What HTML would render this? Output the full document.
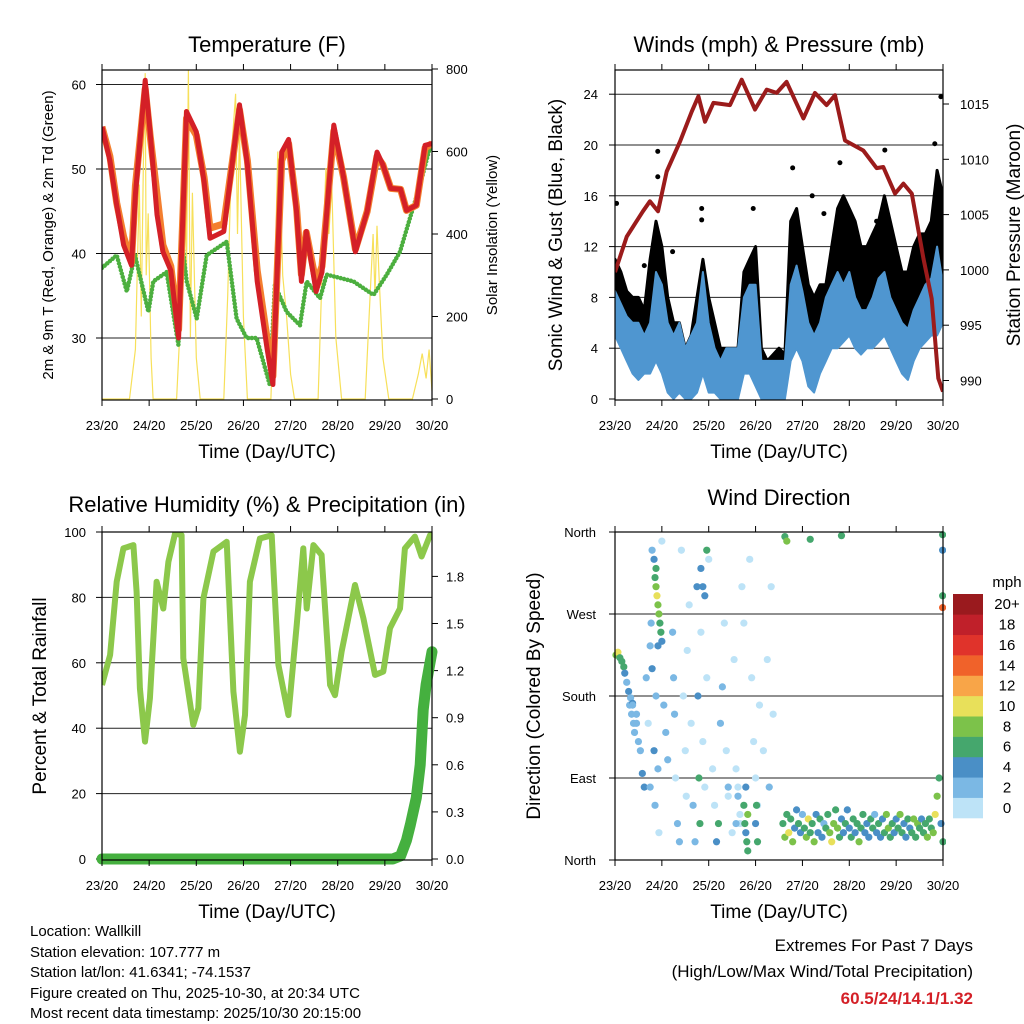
<!DOCTYPE html>
<html><head><meta charset="utf-8"><style>
html,body{margin:0;padding:0;background:#fff;}
svg{display:block;font-family:"Liberation Sans",Arial,sans-serif;}
</style></head><body>
<svg id="c" width="1024" height="1024" viewBox="0 0 1024 1024" xmlns="http://www.w3.org/2000/svg">
<defs>
<clipPath id="cp1"><rect x="102" y="70" width="330" height="330"/></clipPath>
<clipPath id="cp2"><rect x="615" y="70" width="328" height="330"/></clipPath>
<clipPath id="cp3"><rect x="102" y="532" width="330" height="328"/></clipPath>
<clipPath id="cp4"><rect x="612" y="528" width="334" height="336"/></clipPath>
</defs>
<g id="g1"></g>
<g id="g2"></g>
<g id="g3"></g>
<g id="g4"></g>
<g font-size="15" fill="#000">
<text x="30" y="936">Location: Wallkill</text>
<text x="30" y="957">Station elevation: 107.777 m</text>
<text x="30" y="977">Station lat/lon: 41.6341; -74.1537</text>
<text x="30" y="998">Figure created on Thu, 2025-10-30, at 20:34 UTC</text>
<text x="30" y="1018">Most recent data timestamp: 2025/10/30 20:15:00</text>
</g>
<g font-size="17" text-anchor="end">
<text x="973" y="951">Extremes For Past 7 Days</text>
<text x="973" y="977">(High/Low/Max Wind/Total Precipitation)</text>
<text x="973" y="1004" fill="#d42027" font-weight="bold">60.5/24/14.1/1.32</text>
</g>
</svg>
<script>
const dayLabels=["23/20","24/20","25/20","26/20","27/20","28/20","29/20","30/20"];
// Temperature (F)
const tT=[0,4,7.5,11,15,17,22,24.5,28,31,35,39,43,48,52,55,62,70,74,79,84,87,91.5,95,99,101.5,104,109,112,118,123,129,135,140,143,147,152,155,160,164.5,168];
const tRed=[55,51,45.7,41,38.6,47,60.5,54.4,44.6,40.2,38,30,56.8,54.4,48.5,41.8,42.6,57.6,50.5,36.7,28.8,24.5,52,53.5,45,36.7,42.6,35.5,37.8,55.2,49,40.2,45,52,50.5,47.7,47.6,45.1,45.7,52.8,53];
const tOrange=[55,51.5,46,42,39,48,59.5,54,47,41,38.5,31,56,54,49,43,43.5,57,51,38,30,25.5,51,53,45.5,37.5,42.5,36.5,38.5,54.5,49,40.5,45,51.5,50.5,47.7,47.6,45.1,45.7,52.5,53];
const tdT=[0,7.5,12.6,16.8,23.6,26.1,32.9,38.9,40.5,43.1,48.2,53.3,63.5,68.5,73.6,78.7,85.5,88,94,100.8,104.2,111,114.4,128,138.2,145,151.7,156.8,161.9,166.6,168];
const tdV=[38.3,39.8,35.5,39.8,33.1,36.7,37.8,29.2,41.8,36.7,32.3,39.8,41.4,32.3,30,30,24.4,36.3,33.1,31.5,36.7,34.7,37.5,36.7,35.1,37.5,40.2,44.2,48.1,52.3,52.5];
const solT=[0,14,17,19,20,21,22,22.5,23.5,25,26,38,40,42,43,44,45,46,48,50,62,64,66,68,69,70,72,74,86,88,89.5,91,92,94,96,98,110,112,114,115.5,117,119,122,134,136,138,139,140,141,143,146,158,161,163,165,166.5,168];
const solV=[0,0,120,520,200,560,790,300,450,100,0,0,200,700,300,800,150,500,100,0,0,250,600,740,400,650,200,0,0,300,600,480,300,200,60,0,0,300,560,400,520,150,0,0,200,400,250,420,300,100,0,0,60,110,50,120,20];
const tempTicks=[30,40,50,60];
const solTicks=[0,200,400,600,800];
// Winds (mph) & Pressure (mb)
const presT=[0,6,14.3,17.9,22,26.5,33.3,39.3,42.7,46.1,50.4,58.9,64.9,71.7,77.7,82.8,87.9,96.5,102.4,108.4,112.7,117.8,127.2,134,137.4,143.4,147.7,152,158,162.2,165.6,168];
const presV=[999.8,1003,1005.3,1006.2,1005.3,1008.9,1011.6,1014.3,1015.7,1013.4,1015.1,1014.9,1017.2,1014.5,1016.3,1016,1017,1013.7,1016,1014.9,1015.8,1011.7,1010.8,1009.2,1009.3,1006.9,1007.8,1006.9,1001,997.4,990.2,989];
const windT=[0,3,6,9,12,15,18,21,24,27,30,33,36,39,42,45,48,51,54,57,60,63,66,69,72,75,78,81,84,87,90,93,96,99,102,105,108,111,114,117,120,123,126,129,132,135,138,141,144,147,150,153,156,159,162,165,168];
const windHi=[8.5,7.5,6.5,6,6,5,6,10,9,6,5,6,4,5,6,10,6,4,3,4,4,4,8,9,9,3,3,3,3,3,9,10.5,8.5,6,5,6,8,9,10,9,10,8,7,7,8,9.5,10,8,7,6,5.5,7,8,9,9.5,12,9];
const windLo=[5,4,3,2,1.5,2,2,3,2,0.5,0,0.5,0,0,0.5,2,0.5,0.5,0,0,0,0,2,2,1,0,0,0,0,0,3,4,3,1,0.5,2,3,4,4,4.5,5,4,3.5,4,4,4.5,5,4,3,2,1.5,3,4,4.5,5,5,6];
const gustHi=[11,10,8.5,8,8,7,11,14,12,8,6,6,4,5,8,11,8,6,4,4,4,4,10,11,12,4,3,3.5,4,3.5,14,15,12,9,8,9,9,12,15,16,15,14,12,12,13,14,16,14,12,10,10,12,13,13,14,18,16];
const gustLo=[7,6,5,4,4,4,6,8,5,3,2,2,1,1.5,2,4,2,1,1,1,1,1,4,4,3,1,1,1,1,1,6,7,6,4,2,3,4,5,6,7,7,6,6,6,6,7,8,7,5,4,4,6,7,7,8,10,9];
const gustOutT=[0.8,21.9,21.9,29.5,44.4,44.4,70.8,91,115.2,138.2,163.8,166.9,15,101,107,134,165];
const gustOutV=[15.4,19.5,17.5,11.6,15,14.1,15,18.2,18.6,19.6,20.1,23.8,10.5,16,14.6,14,14];
const windTicks=[0,4,8,12,16,20,24];
const presTicks=[990,995,1000,1005,1010,1015];
// Relative Humidity & Precip
const rhT=[0,4.1,7.5,10.9,16,17.6,19.3,21.9,24.4,27.8,31.2,33.8,37.2,40.5,41.4,46.5,49,51.6,56.7,63.5,66.9,70.2,72.8,75.3,80.4,86.4,89.8,94.9,99.1,102.5,104.2,107.6,111.8,116.1,118.6,122,128.8,133.1,139,143.2,146.6,151.7,154.2,159.3,162.7,167,168];
const rhV=[53.2,62.4,84.8,95,96,81.7,52.2,35.9,49.1,84.8,76.6,90.9,99.6,99,61.4,41,46.1,79.7,94,97,51.2,32.8,44,84.8,98,99,59.4,44,71.5,95,76.6,96,93,53.2,50.1,63.4,83.8,73.6,56.3,57.3,70.6,76.6,95,98.6,92.5,99,99];
const prT=[0,148,152,155,157,160,162,163.5,165,167,168];
const prV=[0,0,0.02,0.12,0.22,0.39,0.6,0.95,1.11,1.25,1.32];
const rhTicks=[0,20,40,60,80,100];
const prTicks=[0.0,0.3,0.6,0.9,1.2,1.5,1.8];
// Wind direction
const dirT=[0.5,1.5,2.5,3.5,4.5,5,6,7,7.5,8,8.5,9,9.5,10,11,12,13,14,15,9,11,20,20.5,21,21.5,22,22.5,23,23.5,24,21,22,19,18,16,17,18,18.5,19,20,20.5,21,22,22.5,24,25,26,27,44,45,46,47,29.5,30,30.5,31,32,33,34,35,36,36.5,37,38,39,40,41,42,42.5,43,43.5,44,45,46,47,48,50,51,52,53,54,55,56,57,58,60,61,62,63,64,65,66,67,68,69,70,71,72,73,74,76,78,80,81,79,66,66.5,67,67.5,68,72,72.5,73,63,64,58,62,86,87,88,89,90,91,92,93,94,95,96,97,98,99,100,101,102,103,104,105,106,107,108,109,110,111,112,113,114,115,116,117,118,119,120,121,122,123,124,125,126,127,128,129,130,131,132,133,134,135,136,137,138,139,140,141,142,143,144,145,146,147,148,149,150,151,152,153,154,155,156,157,158,159,160,161,162,163,164,165,166,167,168,87,88,100,116,167.8,167.8,167.8,167.8];
const dirDeg=[225,228,222,218,212,205,195,185,170,178,160,172,150,140,160,130,120,95,80,170,150,330,310,300,290,280,270,260,250,240,320,235,210,235,200,150,80,260,340,120,60,180,100,30,350,170,140,110,320,300,290,340,250,200,160,90,40,20,340,180,120,70,230,280,150,60,20,300,180,90,40,250,130,80,200,330,100,60,20,40,150,190,260,120,70,30,220,100,80,40,300,260,30,10,330,200,130,90,60,170,120,220,300,160,80,60,40,80,20,50,40,60,20,70,50,80,40,40,25,50,30,45,20,35,55,40,30,50,35,25,45,30,40,20,50,30,45,25,40,35,50,30,20,40,55,35,25,45,30,40,55,35,25,45,30,40,20,35,50,30,40,25,45,35,50,30,40,25,45,30,50,35,25,40,30,45,35,50,30,40,25,45,35,30,45,25,40,35,45,30,40,25,45,35,30,50,70,90,40,20,355,350,352,356,357,290,277,340];
const dirSpd=[8,10,7,6,6,4,3,4,2,3,3,4,2,3,2,2,3,4,4,2,3,4,6,8,10,9,8,7,6,5,7,4,4,3,2,1,3,2,2,4,3,2,2,1,1,2,3,2,4,5,4,6,2,3,2,1,2,3,1,0,1,1,1,1,0,2,3,4,4,6,6,1,1,0,1,1,0,1,5,6,2,3,1,1,0,1,1,0,1,1,0,1,5,6,1,1,0,0,1,0,1,0,0,1,3,6,6,4,6,8,4,6,6,2,1,2,2,6,8,7,10,6,8,4,4,6,4,3,6,8,10,6,7,9,4,4,6,4,3,6,6,8,10,8,6,9,7,4,4,6,4,4,6,6,4,7,8,6,6,4,4,4,6,6,3,4,6,4,4,6,8,8,6,6,4,4,6,8,6,4,4,6,4,6,8,6,8,6,4,6,7,8,6,6,8,10,8,6,4,6,6,8,6,6,6,6,14,4];
const dirTicks=[0,90,180,270,360];
const dirNames=["North","East","South","West","North"];
const cbLabels=["0","2","4","6","8","10","12","14","16","18","20+"];
const cbColors=["#bde3f7","#7bb8e4","#4a8fc6","#45a76d","#7cc24a","#e8e05a","#f8a548","#f0622a","#e0332b","#c0202a","#9a1a1e"];

const NS="http://www.w3.org/2000/svg";
function mk(parent,tag,attrs,txt){const e=document.createElementNS(NS,tag);for(const k in attrs)e.setAttribute(k,attrs[k]);if(txt!==undefined)e.textContent=txt;parent.appendChild(e);return e;}
function pts(ts,vs,fx,fy){return ts.map((t,i)=>fx(t).toFixed(1)+","+fy(vs[i]).toFixed(1)).join(" ");}

function frameAxes(g,x0,x1,y0,y1,fx){
  dayLabels.forEach((lab,i)=>{const x=fx(i*24);
    const tk=mk(g,"line",{x1:x,x2:x,y1:y1,y2:y1+6,stroke:"#000","stroke-width":1});
    
    
    mk(g,"line",{x1:x,x2:x,y1:y0,y2:y0-6,stroke:"#000","stroke-width":1});
    const t=mk(g,"text",{x:x,y:y1+30,"font-size":13,"text-anchor":"middle"},lab);
    
    
  });
}
function frame(g,x0,x1,y0,y1){const r=mk(g,"rect",{x:x0,y:y0,width:x1-x0,height:y1-y0,fill:"none",stroke:"#000","stroke-width":1.2});
  
  }
function label(g,x,y,txt,size,rot,name,anchor){const t=mk(g,"text",{x:x,y:y,"font-size":size,"text-anchor":anchor||"middle"},txt);
  if(rot)t.setAttribute("transform","rotate(-90 "+x+" "+y+")");
  
  return t;}

// ===== Panel 1: Temperature =====
(function(){
  const g=document.getElementById("g1");
  const fx=t=>102+t/168*330, fy=v=>84.5+(60-v)*8.45, fs=v=>399-v*0.4125;
  tempTicks.forEach(v=>{const y=fy(v);
    const l=mk(g,"line",{x1:102,x2:432,y1:y,y2:y,stroke:"#222","stroke-width":1});
    
    
    mk(g,"line",{x1:96,x2:102,y1:y,y2:y,stroke:"#000"});
    const t=mk(g,"text",{x:86,y:y+5,"font-size":13,"text-anchor":"end"},v);
    
    });
  solTicks.forEach(v=>{const y=fs(v);mk(g,"line",{x1:432,x2:438,y1:y,y2:y,stroke:"#000"});
    const t=mk(g,"text",{x:446,y:y+5,"font-size":13},v);
    
    });
  const c=mk(g,"g",{"clip-path":"url(#cp1)"});
  const sol=mk(c,"polyline",{points:pts(solT,solV,fx,fs),fill:"none",stroke:"#f7e05a","stroke-width":1.2});
  
  
  const td=mk(c,"polyline",{points:pts(tdT,tdV,fx,fy),fill:"none",stroke:"#4caf3f","stroke-width":4.5,"stroke-linecap":"round","stroke-dasharray":"0 3.5"});
  
  
  const o=mk(c,"polyline",{points:pts(tT,tOrange,fx,fy),fill:"none",stroke:"#f47f2f","stroke-width":7,"stroke-linejoin":"round"});
  
  
  const r=mk(c,"polyline",{points:pts(tT,tRed,fx,fy),fill:"none",stroke:"#d42027","stroke-width":5,"stroke-linejoin":"round"});
  
  
  frame(g,102,432,70,400);frameAxes(g,102,432,70,400,fx);
  label(g,267,52,"Temperature (F)",22,false,"chart-title");
  label(g,267,458,"Time (Day/UTC)",19,false,"x-axis-title");
  label(g,53,235,"2m & 9m T (Red, Orange) & 2m Td (Green)",15,true,"y-axis-title");
  label(g,497,235,"Solar Insolation (Yellow)",15,true,"y2-axis-title");
})();

// ===== Panel 2: Winds =====
(function(){
  const g=document.getElementById("g2");
  const fx=t=>615+t/168*328, fy=v=>399-v*12.7, fp=v=>380.5-(v-990)*11.06;
  windTicks.forEach(v=>{const y=fy(v);
    if(v>0){const l=mk(g,"line",{x1:615,x2:943,y1:y,y2:y,stroke:"#222","stroke-width":1});
    
    }
    mk(g,"line",{x1:609,x2:615,y1:y,y2:y,stroke:"#000"});
    const t=mk(g,"text",{x:598,y:y+5,"font-size":13,"text-anchor":"end"},v);
    
    });
  presTicks.forEach(v=>{const y=fp(v);mk(g,"line",{x1:943,x2:949,y1:y,y2:y,stroke:"#000"});
    const t=mk(g,"text",{x:960,y:y+5,"font-size":13},v);
    
    });
  const c=mk(g,"g",{"clip-path":"url(#cp2)"});
  const gp=windT.map((t,i)=>fx(t).toFixed(1)+","+fy(gustHi[i]).toFixed(1)).concat(windT.slice().reverse().map((t,j)=>{const i=windT.length-1-j;return fx(t).toFixed(1)+","+fy(gustLo[i]).toFixed(1);})).join(" ");
  const gb=mk(c,"polygon",{points:gp,fill:"#000",stroke:"#000","stroke-width":3,"stroke-linejoin":"round"});
  
  
  gustOutT.forEach((t,i)=>{const d=mk(c,"circle",{cx:fx(t),cy:fy(gustOutV[i]),r:2.5,fill:"#000"});
    
    });
  const wp=windT.map((t,i)=>fx(t).toFixed(1)+","+fy(windHi[i]).toFixed(1)).concat(windT.slice().reverse().map((t,j)=>{const i=windT.length-1-j;return fx(t).toFixed(1)+","+fy(windLo[i]).toFixed(1);})).join(" ");
  const wb=mk(c,"polygon",{points:wp,fill:"#4f96d0",stroke:"#4f96d0","stroke-width":2,"stroke-linejoin":"round"});
  
  
  const p=mk(c,"polyline",{points:pts(presT,presV,fx,fp),fill:"none",stroke:"#9b1b1b","stroke-width":4,"stroke-linejoin":"round"});
  
  
  frame(g,615,943,70,400);frameAxes(g,615,943,70,400,fx);
  label(g,779,52,"Winds (mph) & Pressure (mb)",22,false,"chart-title");
  label(g,779,458,"Time (Day/UTC)",19,false,"x-axis-title");
  label(g,562,235,"Sonic Wind & Gust (Blue, Black)",19,true,"y-axis-title");
  label(g,1020,235,"Station Pressure (Maroon)",19,true,"y2-axis-title");
})();

// ===== Panel 3: RH & Precip =====
(function(){
  const g=document.getElementById("g3");
  const fx=t=>102+t/168*330, fy=v=>859-v*3.27, fr=v=>859-v*157;
  rhTicks.forEach(v=>{const y=fy(v);
    if(v>0&&v<100){const l=mk(g,"line",{x1:102,x2:432,y1:y,y2:y,stroke:"#222","stroke-width":1});
    
    }
    mk(g,"line",{x1:96,x2:102,y1:y,y2:y,stroke:"#000"});
    const t=mk(g,"text",{x:86,y:y+5,"font-size":13,"text-anchor":"end"},v);
    
    });
  prTicks.forEach(v=>{const y=fr(v);mk(g,"line",{x1:432,x2:438,y1:y,y2:y,stroke:"#000"});
    const t=mk(g,"text",{x:446,y:y+5,"font-size":13},v.toFixed(1));
    
    });
  const c=mk(g,"g",{"clip-path":"url(#cp3)"});
  const rh=mk(c,"polyline",{points:pts(rhT,rhV,fx,fy),fill:"none",stroke:"#8cc84b","stroke-width":6,"stroke-linejoin":"round"});
  
  
  const pr=mk(g,"polyline",{points:pts(prT,prV,fx,fr),fill:"none",stroke:"#45b03f","stroke-width":11,"stroke-linejoin":"round","stroke-linecap":"round"});
  
  
  frame(g,102,432,532,860);frameAxes(g,102,432,532,860,fx);
  label(g,267,512,"Relative Humidity (%) & Precipitation (in)",22,false,"chart-title");
  label(g,267,918,"Time (Day/UTC)",19,false,"x-axis-title");
  label(g,46,696,"Percent & Total Rainfall",19,true,"y-axis-title");
})();

// ===== Panel 4: Wind direction =====
(function(){
  const g=document.getElementById("g4");
  const fx=t=>615+t/168*328, fy=v=>860-v*328/360;
  dirTicks.forEach((v,i)=>{const y=fy(v);
    if(v>0&&v<360){const l=mk(g,"line",{x1:615,x2:943,y1:y,y2:y,stroke:"#222","stroke-width":1});
    
    }
    mk(g,"line",{x1:609,x2:615,y1:y,y2:y,stroke:"#000"});
    const t=mk(g,"text",{x:596,y:y+5,"font-size":13,"text-anchor":"end"},dirNames[i]);
    
    });
  const c=mk(g,"g",{"clip-path":"url(#cp4)"});
  dirT.forEach((t,i)=>{const s=dirSpd[i];const bin=Math.min(10,Math.floor(s/2));
    const d=mk(c,"circle",{cx:fx(t),cy:fy(dirDeg[i]),r:3.6,fill:cbColors[bin]});
    
    });
  frame(g,615,943,532,860);frameAxes(g,615,943,532,860,fx);
  label(g,779,505,"Wind Direction",22,false,"chart-title");
  label(g,779,918,"Time (Day/UTC)",19,false,"x-axis-title");
  label(g,540,696,"Direction (Colored By Speed)",19,true,"y-axis-title");
  const cb=mk(g,"g",{});
  
  
  const h=224/11;
  cbColors.forEach((col,i)=>{const y=818-(i+1)*h;
    const r=mk(cb,"rect",{x:953,y:y,width:30,height:h+0.3,fill:col});
    
    
    const t=mk(cb,"text",{x:1007,y:y+h/2+5,"font-size":15,"text-anchor":"middle"},cbLabels[i]);
    
    });
  const u=mk(cb,"text",{x:1007,y:587,"font-size":15,"text-anchor":"middle"},"mph");
  
  
})();
</script>
</body></html>
